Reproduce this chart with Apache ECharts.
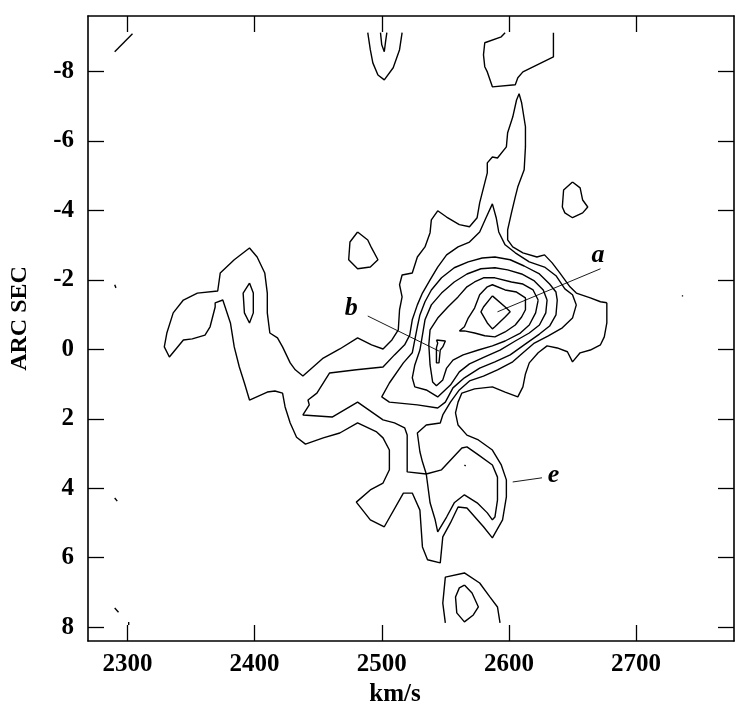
<!DOCTYPE html>
<html lang="en">
<head>
    <meta charset="UTF-8">
    <title>Position-velocity contours</title>
	<style>
	html, body { margin: 0; padding: 0; background: #fff; }
	#chart1 { width: 753px; height: 711px; }
	</style>
</head>
<body>
    <div id="chart1"></div>
	<script src="https://cdn.jsdelivr.net/npm/echarts@6/dist/echarts.min.js"></script>
	<script>
	// axis ticks
	var xTicks = [2300, 2400, 2500, 2600, 2700];
	var yTicks = [-8, -6, -4, -2, 0, 2, 4, 6, 8];

	// contours, [km/s, arcsec]
	var outerContour = [[2677,-1.34],[2677,-0.76],[2675,-0.36],[2672,-0.13],[2664,0.02],[2656,0.1],[2650,0.36],[2646,0.07],[2638,-0.04],[2630,-0.1],[2623,0.1],[2616,0.39],[2613,0.71],[2611,1.08],[2607,1.37],[2597,1.23],[2587,1.08],[2573,1.14],[2563,1.26],[2560,1.52],[2558,1.83],[2560,2.18],[2567,2.47],[2576,2.61],[2587,2.9],[2594,3.33],[2598,3.76],[2598,4.25],[2595,4.91],[2587,5.43],[2580,5.11],[2567,4.57],[2560,4.54],[2554,5.0],[2548,5.4],[2546,6.15],[2536,6.06],[2532,5.69],[2530,4.63],[2524,4.14],[2517,4.14],[2502,5.11],[2491,4.91],[2480,4.4],[2491,4.05],[2501,3.85],[2506,3.47],[2506,2.9],[2501,2.55],[2496,2.38],[2481,2.12],[2467,2.41],[2454,2.55],[2440,2.73],[2433,2.53],[2428,2.12],[2424,1.66],[2422,1.26],[2416,1.2],[2410,1.23],[2396,1.46],[2392,0.97],[2388,0.51],[2384,-0.07],[2381,-0.76],[2375,-1.42],[2369,-1.34],[2369,-1.22],[2365,-0.65],[2361,-0.41],[2351,-0.3],[2344,-0.27],[2333,0.22],[2329,-0.07],[2331,-0.47],[2336,-1.05],[2344,-1.42],[2355,-1.62],[2371,-1.68],[2373,-2.2],[2384,-2.58],[2396,-2.92],[2402,-2.66],[2408,-2.2],[2410,-1.62],[2410,-1.05],[2412,-0.47],[2418,-0.33],[2422,-0.07],[2428,0.39],[2432,0.59],[2438,0.77],[2446,0.51],[2454,0.25],[2467,-0.01],[2481,-0.33],[2492,-0.13],[2501,-0.01],[2508,-0.27],[2513,-0.56],[2514,-1.14],[2516,-1.51],[2514,-1.86],[2516,-2.14],[2524,-2.2],[2528,-2.66],[2534,-2.95],[2538,-3.36],[2539,-3.73],[2544,-3.99],[2551,-3.81],[2561,-3.59],[2569,-3.53],[2575,-3.79],[2577,-4.22],[2583,-5.08],[2583,-5.37],[2587,-5.54],[2591,-5.51],[2598,-5.83],[2599,-6.24],[2603,-6.69],[2606,-7.18],[2608,-7.36],[2610,-7.1],[2613,-6.41],[2613,-5.83],[2612,-5.17],[2607,-4.68],[2605,-4.39],[2602,-3.93],[2599,-3.44],[2599,-3.15],[2603,-2.95],[2611,-2.78],[2622,-2.66],[2628,-2.72],[2634,-2.49],[2640,-2.2],[2648,-1.8],[2653,-1.62],[2664,-1.48],[2672,-1.37],[2677,-1.34]];

	var ring2 = [[2653,-1.28],[2650,-0.9],[2642,-0.62],[2631,-0.39],[2620,-0.18],[2612,0.07],[2603,0.36],[2591,0.59],[2580,0.77],[2569,0.91],[2561,1.17],[2554,1.52],[2548,1.89],[2546,2.12],[2535,2.18],[2528,2.41],[2530,2.95],[2532,3.24],[2535,3.59],[2547,3.47],[2563,2.84],[2567,2.81],[2576,3.04],[2587,3.33],[2591,3.68],[2591,4.05],[2591,4.34],[2589,4.83],[2587,4.91],[2583,4.71],[2575,4.42],[2565,4.19],[2557,4.42],[2551,4.83],[2544,5.26],[2542,4.91],[2538,4.42],[2535,3.59],[2520,3.53],[2520,3.04],[2520,2.47],[2518,2.26],[2510,2.12],[2501,2.03],[2481,1.52],[2461,1.95],[2438,1.89],[2443,1.6],[2442,1.46],[2449,1.26],[2459,0.68],[2480,0.59],[2501,0.51],[2510,0.16],[2518,-0.13],[2522,-0.41],[2524,-0.85],[2528,-1.28],[2532,-1.62],[2538,-2.0],[2544,-2.37],[2551,-2.72],[2560,-2.95],[2569,-3.09],[2577,-3.38],[2582,-3.79],[2587,-4.19],[2590,-3.79],[2592,-3.38],[2597,-3.01],[2605,-2.78],[2616,-2.52],[2628,-2.37],[2637,-2.12],[2644,-1.74],[2650,-1.57],[2653,-1.28]];

	var ring3 = [[2638,-1.42],[2637,-0.99],[2632,-0.67],[2624,-0.44],[2612,-0.13],[2601,0.16],[2589,0.36],[2577,0.54],[2565,0.82],[2556,1.11],[2550,1.52],[2544,1.69],[2528,1.6],[2506,1.52],[2500,1.37],[2506,0.97],[2517,0.39],[2524,0.1],[2526,-0.27],[2528,-0.65],[2530,-0.99],[2534,-1.37],[2539,-1.71],[2547,-2.06],[2557,-2.35],[2568,-2.52],[2579,-2.63],[2589,-2.66],[2601,-2.58],[2612,-2.4],[2624,-2.17],[2632,-1.88],[2637,-1.65],[2638,-1.42]];

	var ring4 = [[2630,-1.42],[2629,-1.05],[2624,-0.7],[2616,-0.47],[2605,-0.24],[2593,0.02],[2581,0.22],[2569,0.42],[2561,0.65],[2554,1.03],[2544,1.37],[2535,1.17],[2526,1.08],[2524,0.82],[2526,0.45],[2530,0.02],[2532,-0.41],[2534,-0.85],[2539,-1.28],[2547,-1.62],[2557,-1.94],[2567,-2.17],[2578,-2.32],[2589,-2.35],[2599,-2.29],[2610,-2.17],[2620,-1.97],[2627,-1.71],[2630,-1.42]];

	var ring5 = [[2623,-1.42],[2621,-1.05],[2616,-0.7],[2609,-0.47],[2597,-0.24],[2587,-0.1],[2576,0.02],[2564,0.16],[2556,0.31],[2551,0.54],[2548,0.88],[2543,1.05],[2540,0.94],[2538,0.45],[2537,-0.13],[2538,-0.56],[2544,-0.9],[2552,-1.22],[2560,-1.51],[2567,-1.8],[2573,-1.94],[2580,-2.06],[2589,-2.06],[2602,-1.94],[2611,-1.88],[2619,-1.71],[2623,-1.42]];

	var ring6 = [[2561,-0.53],[2565,-0.65],[2568,-0.9],[2573,-1.19],[2577,-1.57],[2583,-1.8],[2587,-1.86],[2597,-1.71],[2606,-1.65],[2613,-1.48],[2613,-1.14],[2610,-0.93],[2605,-0.7],[2597,-0.5],[2589,-0.36],[2581,-0.39],[2573,-0.47],[2565,-0.53],[2561,-0.53]];

	var ring7 = [[2587,-1.54],[2598,-1.19],[2601,-1.08],[2597,-0.93],[2589,-0.65],[2587,-0.59],[2583,-0.76],[2578,-1.08],[2580,-1.22],[2587,-1.54]];

	var featureB = [[2543,-0.27],[2550,-0.24],[2548,-0.07],[2546,0.02],[2545,0.39],[2543,0.39],[2543,-0.04],[2544,-0.18],[2543,-0.27]];
	var birdEye = [[2396,-1.91],[2399,-1.62],[2399,-1.05],[2396,-0.76],[2392,-1.05],[2391,-1.62],[2396,-1.91]];
	var islandWest = [[2481,-3.38],[2489,-3.15],[2492,-2.92],[2497,-2.58],[2491,-2.37],[2481,-2.32],[2474,-2.58],[2475,-3.09],[2481,-3.38]];
	var islandEast = [[2650,-4.82],[2656,-4.65],[2658,-4.3],[2662,-4.1],[2658,-3.93],[2650,-3.79],[2644,-3.93],[2642,-4.1],[2643,-4.59],[2650,-4.82]];
	var topArch = [[2489,-9.12],[2491,-8.63],[2493,-8.25],[2497,-7.9],[2502,-7.76],[2509,-8.11],[2514,-8.63],[2516,-9.12]];
	var topNotch = [[2499,-9.12],[2500,-8.77],[2502,-8.57],[2503,-8.86],[2504,-9.12]];
	var topRight = [[2597,-9.12],[2594,-9.0],[2581,-8.83],[2580,-8.48],[2581,-8.14],[2583,-7.99],[2587,-7.56],[2605,-7.62],[2607,-7.82],[2611,-7.99],[2627,-8.28],[2635,-8.42],[2635,-9.12]];
	var cornerStroke = [[2290,-8.57],[2304,-9.09]];
	var southArch = [[2550,7.88],[2548,7.31],[2550,6.56],[2565,6.44],[2577,6.73],[2585,7.13],[2591,7.42],[2593,7.88]];
	var southCore = [[2565,6.79],[2571,7.02],[2576,7.42],[2572,7.65],[2565,7.85],[2559,7.59],[2558,7.13],[2561,6.87],[2565,6.79]];
	var speck1 = [[2290,-1.86],[2291,-1.77]];
	var speck2 = [[2290,4.28],[2292,4.37]];
	var speck3 = [[2290,7.45],[2293,7.57]];
	var speck4 = [[2301,7.85],[2301,7.94]];
	var speck5 = [[2736,-1.54],[2737,-1.54]];
	var speck6 = [[2565,3.33],[2566,3.36]];

	// labels and their pointers
	var labelNames = ['a', 'b', 'e'];
	var labelPoints = [[2670,-2.72],[2476,-1.19],[2635,3.62]];
	var pointerA = [[2672,-2.32],[2591,-1.08]];
	var pointerB = [[2489,-0.96],[2545,0.05]];
	var pointerE = [[2603,3.82],[2626,3.7]];

	var contours = [outerContour, ring2, ring3, ring4, ring5, ring6, ring7, featureB, birdEye,
		islandWest, islandEast, topArch, topNotch, topRight, cornerStroke, southArch, southCore,
		speck1, speck2, speck3, speck4, speck5, speck6];
	var pointers = [pointerA, pointerB, pointerE];

	var serif = '"Liberation Serif", "DejaVu Serif", serif';
	var myChart = echarts.init(document.getElementById('chart1'));

	var series = [];
	contours.forEach(function (c) {
		series.push({
			type: 'line', data: c, symbol: 'none', silent: true,
			lineStyle: { color: '#000', width: 1.4 }
		});
	});
	pointers.forEach(function (p) {
		series.push({
			type: 'line', data: p, symbol: 'none', silent: true,
			lineStyle: { color: '#000', width: 0.9 }
		});
	});
	series.push({
		type: 'scatter', symbolSize: 0, silent: true,
		itemStyle: { opacity: 1 },
		data: labelPoints.map(function (p, i) { return { value: p, name: labelNames[i] }; }),
		label: {
			show: true, position: 'inside', formatter: '{b}', color: '#000', opacity: 1,
			fontFamily: serif, fontStyle: 'italic', fontWeight: 'bold', fontSize: 26
		}
	});

	var tickStyle = { show: true, inside: true, length: 16, lineStyle: { color: '#000', width: 1.3 } };
	var lineStyle = { show: true, onZero: false, lineStyle: { color: '#000', width: 1.6 } };
	var plain = function (v) { return String(v); };

	myChart.setOption({
		animation: false,
		backgroundColor: '#fff',
		grid: { left: 88, top: 16, width: 646, height: 625, containLabel: false, outerBoundsMode: 'none' },
		xAxis: [
			{
				type: 'value', min: 2269, max: 2777, position: 'bottom',
				axisLine: lineStyle, splitLine: { show: false },
				axisTick: Object.assign({ customValues: xTicks }, tickStyle),
				axisLabel: { customValues: xTicks, formatter: plain, color: '#000', fontFamily: serif, fontWeight: 'bold', fontSize: 25, margin: 11 },
				name: 'km/s', nameLocation: 'middle', nameGap: 40,
				nameTextStyle: { color: '#000', fontFamily: serif, fontWeight: 'bold', fontSize: 25, padding: [0, 32, 0, 0] }
			},
			{
				type: 'value', min: 2269, max: 2777, position: 'top',
				axisLine: lineStyle, splitLine: { show: false },
				axisTick: Object.assign({ customValues: xTicks }, tickStyle),
				axisLabel: { show: false }
			}
		],
		yAxis: [
			{
				type: 'value', min: -9.6, max: 8.4, inverse: true, position: 'left',
				axisLine: lineStyle, splitLine: { show: false },
				axisTick: Object.assign({ customValues: yTicks }, tickStyle),
				axisLabel: { customValues: yTicks, formatter: plain, color: '#000', fontFamily: serif, fontWeight: 'bold', fontSize: 25, margin: 14 },
				name: 'ARC SEC', nameLocation: 'middle', nameGap: 56, nameRotate: 90,
				nameTextStyle: { color: '#000', fontFamily: serif, fontWeight: 'bold', fontSize: 24, padding: [0, 0, 0, 20] }
			},
			{
				type: 'value', min: -9.6, max: 8.4, inverse: true, position: 'right',
				axisLine: lineStyle, splitLine: { show: false },
				axisTick: Object.assign({ customValues: yTicks }, tickStyle),
				axisLabel: { show: false }
			}
		],
		series: series
	});
	</script>
</body>
</html>
